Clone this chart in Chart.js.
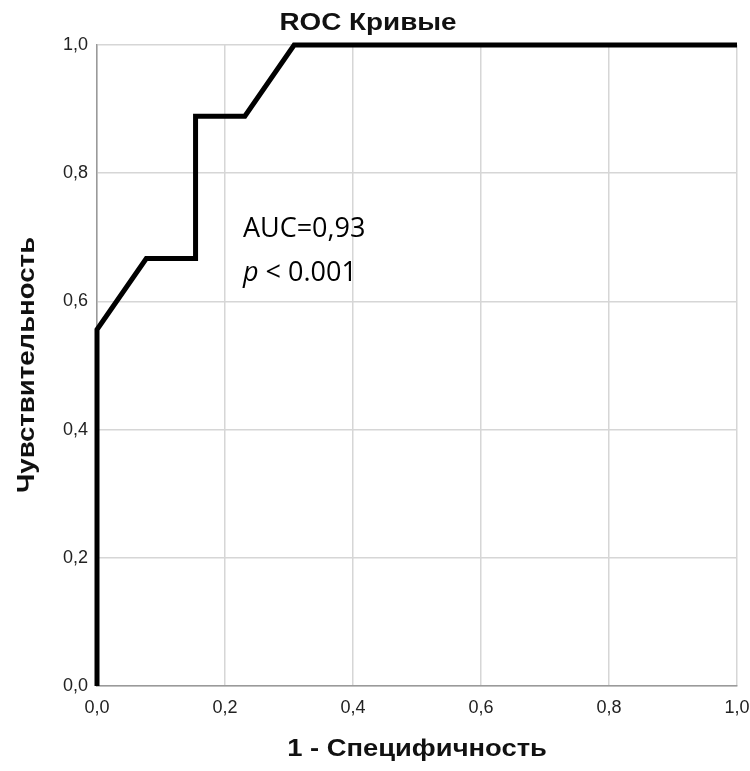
<!DOCTYPE html>
<html>
<head>
<meta charset="utf-8">
<script src="https://cdn.jsdelivr.net/npm/chart.js@4.4.1/dist/chart.umd.min.js"></script>
<style>
  html, body { margin: 0; padding: 0; background: #fff; }
  #wrap { width: 750px; height: 771px; position: relative; }
</style>
</head>
<body>
<div id="wrap"><canvas id="rocChart"></canvas></div>
<script>
// ROC curve points: 1 - specificity (x) and sensitivity (y)
var fpr = [0, 0, 0.077, 0.154, 0.154, 0.231, 0.308, 1];
var tpr = [0, 0.556, 0.667, 0.667, 0.889, 0.889, 1, 1];
var tickValues = [0, 0.2, 0.4, 0.6, 0.8, 1];
var chartTitle = 'ROC Кривые';
var xTitle = '1 - Специфичность';
var yTitle = 'Чувствительность';
var aucText = 'AUC=0,93';
var pText = '< 0.001';

var sans = '"Liberation Sans", Arial, sans-serif';
var gridColor = '#d6d6d6';

function fmt(v) { return v.toFixed(1).replace('.', ','); }

// draw centred text slightly widened, optionally rotated
function wideText(c, text, x, y, rot, sx) {
  c.save();
  c.translate(x, y);
  if (rot) c.rotate(rot);
  c.scale(sx, 1);
  c.fillText(text, 0, 0);
  c.restore();
}

new Chart(document.getElementById('rocChart'), {
  type: 'scatter',
  data: {
    datasets: [{
      data: fpr.map(function(x, i) { return { x: x, y: tpr[i] }; }),
      showLine: true,
      borderColor: '#000',
      borderWidth: 5,
      pointRadius: 0,
      borderJoinStyle: 'miter',
      fill: false,
      clip: false
    }]
  },
  options: {
    responsive: true,
    maintainAspectRatio: false,
    animation: false,
    layout: { padding: { top: 45, right: 13, bottom: 0, left: 0 } },
    plugins: { legend: { display: false }, tooltip: { enabled: false } },
    scales: {
      x: {
        type: 'linear', min: 0, max: 1,
        afterBuildTicks: function(a) { a.ticks = tickValues.map(function(v) { return { value: v }; }); },
        afterFit: function(a) { a.height = 85; a.paddingLeft = 0; a.paddingRight = 0; },
        grid: { color: gridColor, lineWidth: 1.5, drawTicks: false },
        border: { color: '#9a9a9a', width: 1.5 },
        ticks: { padding: 11, color: '#222', font: { size: 18, family: sans }, maxRotation: 0, callback: fmt }
      },
      y: {
        type: 'linear', min: 0, max: 1,
        afterBuildTicks: function(a) { a.ticks = tickValues.map(function(v) { return { value: v }; }); },
        afterFit: function(a) { a.width = 97; a.paddingTop = 0; a.paddingBottom = 0; },
        grid: { color: gridColor, lineWidth: 1.5, drawTicks: false },
        border: { color: '#9a9a9a', width: 1.5 },
        ticks: { padding: 9, color: '#222', font: { size: 18, family: sans }, callback: fmt }
      }
    }
  },
  plugins: [{
    id: 'rocText',
    afterDraw: function(chart) {
      var c = chart.ctx, xs = chart.scales.x, ys = chart.scales.y;
      c.save();
      c.fillStyle = '#111';
      c.textAlign = 'center';
      c.textBaseline = 'middle';
      // chart title
      c.font = 'bold 24px ' + sans;
      wideText(c, chartTitle, 368, 23, 0, 1.16);
      // axis titles
      c.font = 'bold 23px ' + sans;
      wideText(c, xTitle, 417, 750, 0, 1.19);
      wideText(c, yTitle, 28, 365, -Math.PI / 2, 1.2);
      // AUC annotation
      var tx = xs.getPixelForValue(0.228);
      c.textAlign = 'left';
      c.fillStyle = '#000';
      c.font = '27px "Open Sans", sans-serif';
      c.fillText(aucText, tx, ys.getPixelForValue(0.712));
      var py = ys.getPixelForValue(0.644);
      c.font = 'italic 27px "Open Sans", sans-serif';
      c.fillText('p', tx, py);
      var w = c.measureText('p ').width;
      c.font = '27px "Open Sans", sans-serif';
      c.fillText(pText, tx + w, py);
      c.restore();
    }
  }]
});
</script>
</body>
</html>
